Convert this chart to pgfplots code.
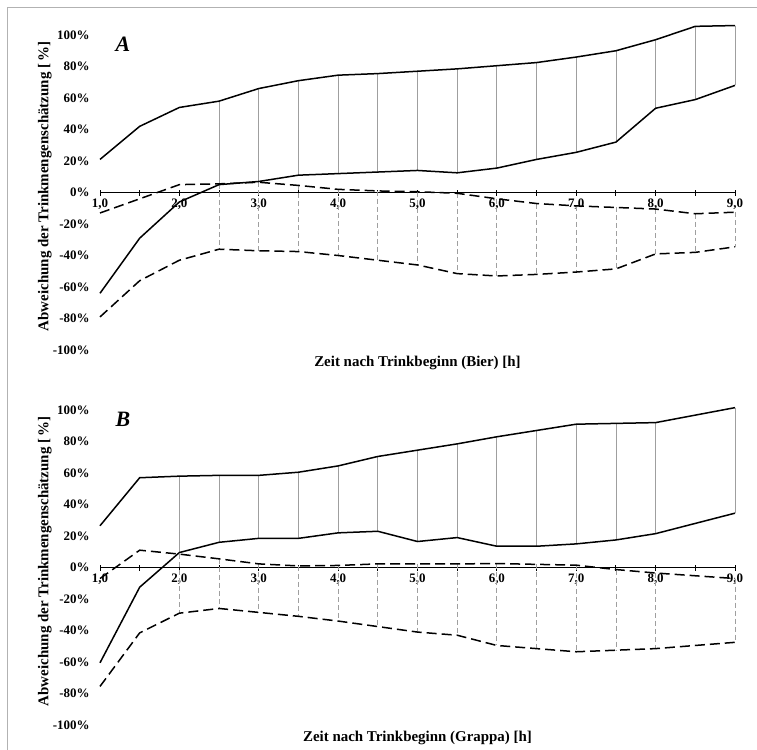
\documentclass[border=0pt]{standalone}
\usepackage{pgfplots}
\usepackage{pgfplotstable}
\pgfplotsset{compat=1.18}
\usepackage{fontspec}
\setmainfont{Liberation Serif}

% Bier: upper/lower limits of the solid band (uhi, ulo) and of the dashed band (dhi, dlo)
\pgfplotstableread{
x   uhi   ulo   dhi   dlo
1.0 21    -64   -13   -79
1.5 42    -29   -4    -56
2.0 54    -6    5     -43
2.5 58    5     5.5   -36
3.0 66    7     6.5   -37
3.5 71    11    4.5   -37.5
4.0 74.5  12    2     -40
4.5 75.5  13    1     -43
5.0 77    14    0.5   -46
5.5 78.5  12.5  -0.5  -51.5
6.0 80.5  15.5  -4    -53
6.5 82.5  21    -7    -52
7.0 86    25.5  -8.5  -50.5
7.5 90    32    -9.5  -48.5
8.0 97    53.5  -10.5 -39
8.5 105.5 59    -13.5 -38
9.0 106   68    -12.5 -34.5
}\bier

% Grappa
\pgfplotstableread{
x   uhi   ulo   dhi   dlo
1.0 26.5  -60.5 -7    -75.5
1.5 57    -12.5 11    -41.5
2.0 58    9.5   8.5   -29
2.5 58.5  16    5.5   -26
3.0 58.5  18.5  2.3   -28.5
3.5 60.5  18.5  1     -31
4.0 64.5  22    1.3   -34
4.5 70.5  23    2.3   -37.5
5.0 74.5  16.5  2.3   -41
5.5 78.5  19    2.3   -43
6.0 83    13.5  2.5   -49.5
6.5 87    13.5  2     -51.5
7.0 91    15    1.5   -53.5
7.5 91.5  17.5  -1.3  -52.5
8.0 92    21.5  -3.5  -51.5
9.0 101.5 34.5  -7    -47.5
}\grappa

\pgfplotsset{
  panel/.style={
    scale only axis, width=635bp, height=315bp,
    xmin=1, xmax=9, ymin=-100, ymax=100, clip=false,
    axis x line=middle, axis y line=left,
    x axis line style={-, line width=1.3bp},
    y axis line style={draw=none},
    hide obscured x ticks=false,
    xtick={1,...,9},
    xticklabels={{1,0},{2,0},{3,0},{4,0},{5,0},{6,0},{7,0},{8,0},{9,0}},
    minor xtick={1.5,2.5,...,8.5},
    tick align=center, major tick length=6bp, minor tick length=6bp,
    xtick style={line width=1bp, black},
    minor tick style={line width=1bp, black},
    ytick={-100,-80,...,100},
    yticklabels={-100\%,-80\%,-60\%,-40\%,-20\%,0\%,20\%,40\%,60\%,80\%,100\%},
    ytick style={draw=none},
    ticklabel style={font=\bfseries\fontsize{13}{15}\selectfont},
    xticklabel style={yshift=0bp},
    yticklabel style={xshift=-4bp},
    label style={font=\bfseries\fontsize{15}{17}\selectfont},
    xlabel style={at={(axis description cs:0.5,-0.04)}, anchor=center},
    ylabel style={at={(axis description cs:-0.087,0.52)}, anchor=center, rotate=0},
    ylabel={Abweichung der Trinkmengenschätzung [\,\%]},
  },
  hatch/.style={draw=none, mark=none, forget plot,
    error bars/.cd, y dir=minus, y explicit, error mark=none,
    error bar style={#1}, /pgfplots/.cd},
  band/.style={black, line width=1.5bp, mark=none},
  dband/.style={black, line width=1.5bp, mark=none, dash pattern=on 10bp off 5bp},
}

\begin{document}
\begin{tikzpicture}
\path[use as bounding box] (0bp,0bp) rectangle (757bp,-750bp);
\draw[gray!60, line width=1bp] (7bp,-750bp) -- (7bp,-7bp) -- (757bp,-7bp);

% Panel A: Bier
\begin{axis}[panel, at={(100bp,-350bp)}, anchor=south west,
  xlabel={Zeit nach Trinkbeginn (Bier) [h]}]
\addplot[restrict x to domain=2.4:9.1, hatch={gray!75, line width=0.8bp}]
  table[x=x, y=uhi, y error expr=\thisrow{uhi}-\thisrow{ulo}] {\bier};
\addplot[restrict x to domain=2.4:9.1, hatch={gray!75, line width=0.8bp, dash pattern=on 5bp off 3bp}]
  table[x=x, y=dhi, y error expr=\thisrow{dhi}-\thisrow{dlo}] {\bier};
\addplot[band] table[x=x, y=uhi] {\bier};
\addplot[band] table[x=x, y=ulo] {\bier};
\addplot[dband] table[x=x, y=dhi] {\bier};
\addplot[dband] table[x=x, y=dlo] {\bier};
\node[font=\bfseries\itshape\fontsize{22}{24}\selectfont] at (axis cs:1.29,94) {A};
\end{axis}

% Panel B: Grappa
\begin{axis}[panel, at={(100bp,-725bp)}, anchor=south west,
  xlabel={Zeit nach Trinkbeginn (Grappa) [h]}]
\addplot[restrict x to domain=1.9:9.1, hatch={gray!75, line width=0.8bp}]
  table[x=x, y=uhi, y error expr=\thisrow{uhi}-\thisrow{ulo}] {\grappa};
\addplot[restrict x to domain=1.9:9.1, hatch={gray!75, line width=0.8bp, dash pattern=on 5bp off 3bp}]
  table[x=x, y=dhi, y error expr=\thisrow{dhi}-\thisrow{dlo}] {\grappa};
\addplot[band] table[x=x, y=uhi] {\grappa};
\addplot[band] table[x=x, y=ulo] {\grappa};
\addplot[dband] table[x=x, y=dhi] {\grappa};
\addplot[dband] table[x=x, y=dlo] {\grappa};
\node[font=\bfseries\itshape\fontsize{22}{24}\selectfont] at (axis cs:1.29,94) {B};
\end{axis}
\end{tikzpicture}
\end{document}
